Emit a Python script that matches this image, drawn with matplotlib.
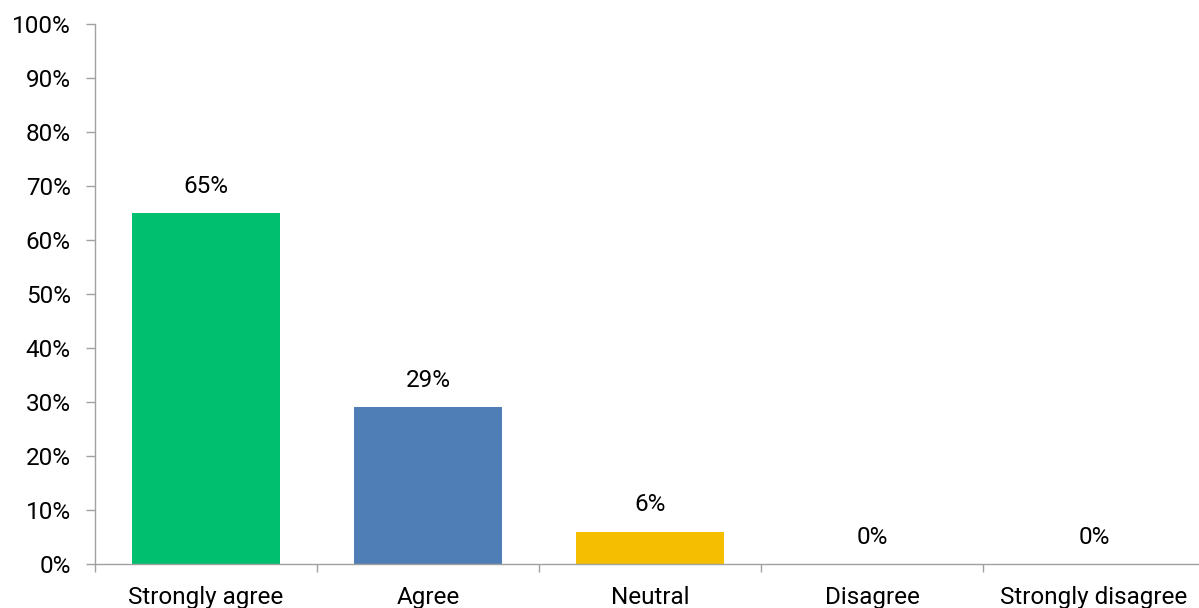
import matplotlib
matplotlib.use("Agg")
import matplotlib.pyplot as plt
from matplotlib.ticker import PercentFormatter

categories = ["Strongly agree", "Agree", "Neutral", "Disagree", "Strongly disagree"]
values = [65, 29, 6, 0, 0]
colors = ["#00BF6F", "#4F7DB5", "#F5BE00", "#A5A5A5", "#A5A5A5"]
yticks = list(range(0, 101, 10))

plt.rcParams["font.family"] = ["Roboto", "DejaVu Sans"]
FS = 17.5

fig = plt.figure(figsize=(11.99, 6.08), dpi=100)
ax = fig.add_axes([95 / 1199, 1 - 564 / 608, 1110 / 1199, 540 / 608])

x = list(range(len(categories)))
ax.bar(x, values, width=0.67, color=colors, zorder=2)

for xi, v in zip(x, values):
    ax.annotate(f"{v}%", (xi, v), xytext=(0, 11), textcoords="offset points",
                ha="center", va="bottom", fontsize=FS, color="#000000")

ax.set_xlim(-0.5, len(categories) - 0.5)
ax.set_ylim(0, 100)
ax.set_yticks(yticks)
ax.yaxis.set_major_formatter(PercentFormatter(decimals=0))

ax.set_xticks(x)
ax.set_xticklabels(categories)
ax.set_xticks([i - 0.5 for i in range(len(categories) + 1)], minor=True)
ax.tick_params(axis="x", which="major", length=0, pad=16, labelsize=FS)
ax.tick_params(axis="x", which="minor", length=6, width=1, color="#A0A0A0", direction="out")
ax.tick_params(axis="y", length=6.5, width=1, color="#A0A0A0", labelsize=FS, pad=11)

for side in ("top", "right"):
    ax.spines[side].set_visible(False)
for side in ("left", "bottom"):
    ax.spines[side].set_color("#A0A0A0")
    ax.spines[side].set_linewidth(1)

fig.savefig("out.png", dpi=100)
